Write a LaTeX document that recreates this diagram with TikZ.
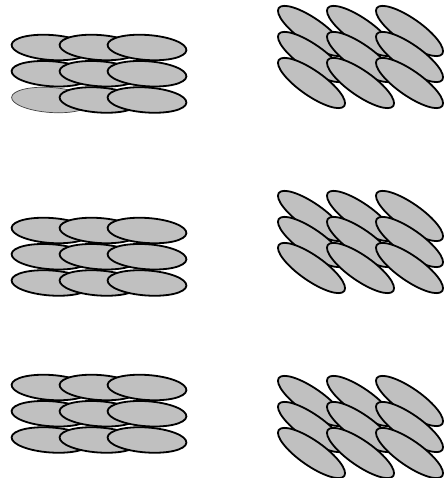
\documentclass[tikz,border=0pt]{standalone}
\usepackage{tikz}
\usetikzlibrary{calc}
\definecolor{ellgray}{RGB}{192,192,192}

\begin{document}
\begin{tikzpicture}[x=1pt, y=1pt,
    ell/.style={draw=black, fill=ellgray, line width=1.8pt},
    thinell/.style={draw=black!75, fill=ellgray, line width=0.7pt}]
  \def\la{39.5}   % <-- semiasse lungo (sinistra)
  \def\ra{40}     % <-- semiasse lungo (destra)
  \def\eb{12.5}   % <-- semiasse corto

  % cornice
  \useasboundingbox (0,0) rectangle (444,478);

  % pannelli a sinistra: ellissi quasi orizzontali
  \foreach \py/\first in {430.5/thinell, 247.5/ell, 90.5/ell}
    \foreach \r in {0,1,2}
      \foreach \c in {0,1,2}{
        \ifnum\r\c=20 \def\st{\first}\else\def\st{ell}\fi
        \draw[\st, shift={(51+48*\c, \py-26.25*\r)}, rotate=-4] (0,0) ellipse [x radius=\la, y radius=\eb];
      }

  % pannelli a destra: ellissi inclinate
  \foreach \py in {447, 262, 77}
    \foreach \r in {0,1,2}
      \foreach \c in {0,1,2}
        \draw[ell, shift={(311.5+49*\c, \py-26*\r)}, rotate=-35] (0,0) ellipse [x radius=\ra, y radius=\eb];
\end{tikzpicture}
\end{document}
